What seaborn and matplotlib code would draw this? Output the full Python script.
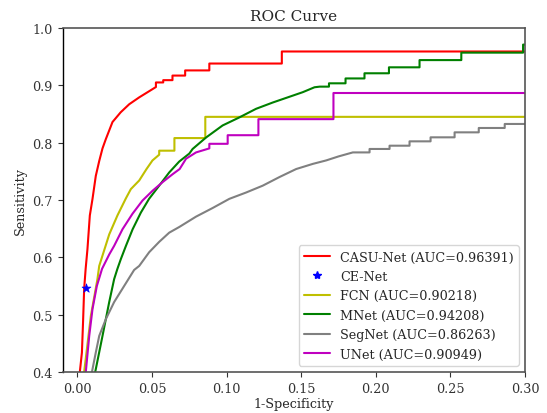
import numpy as np
import pandas as pd
import matplotlib
matplotlib.use("Agg")
import matplotlib.pyplot as plt
import seaborn as sns

# ---- data (fpr, tpr) ----
casu_fpr = [0.0, 0.0016, 0.003, 0.0038, 0.0045, 0.0055, 0.0067, 0.0083, 0.0101, 0.0123, 0.0146,
            0.0168, 0.019, 0.0235, 0.029, 0.0347, 0.0414, 0.047, 0.0526, 0.0526, 0.0575, 0.0575,
            0.0637, 0.0637, 0.0722, 0.0722, 0.0884, 0.0884, 0.137, 0.137, 0.30]
casu_tpr = [0.0, 0.40, 0.434, 0.49, 0.545, 0.58, 0.614, 0.673, 0.702, 0.742, 0.768,
            0.790, 0.806, 0.836, 0.853, 0.867, 0.879, 0.888, 0.897, 0.905, 0.905, 0.909,
            0.909, 0.917, 0.917, 0.926, 0.926, 0.938, 0.938, 0.959, 0.959]

fcn_fpr = [0.0, 0.0045, 0.009, 0.0134, 0.0146, 0.0213, 0.0268, 0.0325, 0.0358, 0.0414, 0.0463,
           0.0503, 0.0548, 0.0548, 0.065, 0.065, 0.0857, 0.0857, 0.30]
fcn_tpr = [0.0, 0.40, 0.498, 0.562, 0.585, 0.64, 0.673, 0.703, 0.719, 0.734, 0.754,
           0.769, 0.779, 0.786, 0.786, 0.808, 0.808, 0.845, 0.845]

mnet_fpr = [0.0, 0.0119, 0.0123, 0.0168, 0.0213, 0.0246, 0.0268, 0.0291, 0.0325, 0.037, 0.0425,
            0.048, 0.0548, 0.0615, 0.0682, 0.075, 0.0772, 0.0862, 0.0973, 0.1085, 0.1197,
            0.1309, 0.1443, 0.151, 0.1589, 0.1624, 0.1686, 0.1686, 0.1797, 0.1797, 0.1924,
            0.1924, 0.2088, 0.2088, 0.2293, 0.2293, 0.2573, 0.2573, 0.2987, 0.2987, 0.30]
mnet_tpr = [0.0, 0.40, 0.405, 0.463, 0.522, 0.562, 0.58, 0.597, 0.62, 0.649, 0.678,
            0.702, 0.725, 0.748, 0.767, 0.781, 0.789, 0.809, 0.83, 0.844, 0.859,
            0.87, 0.882, 0.888, 0.8966, 0.8977, 0.8977, 0.9035, 0.9035, 0.912, 0.912,
            0.921, 0.921, 0.9314, 0.9314, 0.944, 0.944, 0.957, 0.957, 0.971, 0.971]

segnet_fpr = [0.0, 0.0097, 0.0101, 0.0123, 0.0146, 0.019, 0.0246, 0.0313, 0.038, 0.0414, 0.0481,
              0.0548, 0.0615, 0.0683, 0.0795, 0.0906, 0.1018, 0.113, 0.1242, 0.1354, 0.1466,
              0.1578, 0.1667, 0.175, 0.1846, 0.1958, 0.1958, 0.2092, 0.2092, 0.2226, 0.2226,
              0.2367, 0.2367, 0.2528, 0.2528, 0.269, 0.269, 0.2864, 0.2864, 0.30]
segnet_tpr = [0.0, 0.40, 0.405, 0.434, 0.463, 0.492, 0.522, 0.55, 0.578, 0.585, 0.609,
              0.627, 0.643, 0.653, 0.671, 0.686, 0.702, 0.713, 0.725, 0.74, 0.754,
              0.763, 0.769, 0.776, 0.783, 0.783, 0.789, 0.789, 0.7947, 0.7947, 0.8023,
              0.8023, 0.8093, 0.8093, 0.818, 0.818, 0.8256, 0.8256, 0.8326, 0.8326]

unet_fpr = [0.0, 0.0056, 0.0079, 0.0101, 0.013, 0.0165, 0.0213, 0.0246, 0.0302, 0.0369,
            0.0436, 0.0503, 0.057, 0.0638, 0.0685, 0.0728, 0.0795, 0.0884, 0.0884, 0.1007,
            0.1007, 0.1213, 0.1213, 0.1716, 0.1716, 0.30]
unet_tpr = [0.0, 0.40, 0.463, 0.51, 0.55, 0.58, 0.605, 0.62, 0.649, 0.676,
            0.699, 0.716, 0.731, 0.745, 0.754, 0.772, 0.783, 0.790, 0.798, 0.798,
            0.813, 0.813, 0.841, 0.841, 0.8866, 0.8866]

cenet_fpr = [0.006]
cenet_tpr = [0.547]

names = ["CASU-Net (AUC=0.96391)", "FCN (AUC=0.90218)", "MNet (AUC=0.94208)",
         "SegNet (AUC=0.86263)", "UNet (AUC=0.90949)"]
colors = ["#ff0000", "#bfbf00", "#008000", "#808080", "#bf00bf"]
series = [(casu_fpr, casu_tpr), (fcn_fpr, fcn_tpr), (mnet_fpr, mnet_tpr),
          (segnet_fpr, segnet_tpr), (unet_fpr, unet_tpr)]

sns.set_theme(style="ticks")
plt.rcParams["font.family"] = ["DejaVu Serif"]
plt.rcParams["font.size"] = 9.2

fig = plt.figure(figsize=(5.47, 4.14), dpi=100)
ax = fig.add_axes([0.1143, 0.099, 0.8455, 0.831])

frames = []
for nm, (fx, ty) in zip(names, series):
    frames.append(pd.DataFrame({"fpr": fx, "tpr": ty, "model": nm}))
df = pd.concat(frames, ignore_index=True)

handles = {}
for nm, col in zip(names, colors):
    sub = df[df["model"] == nm]
    sns.lineplot(data=sub, x="fpr", y="tpr", color=col, lw=1.5, sort=False,
                 estimator=None, ax=ax, legend=False)
    handles[nm] = ax.lines[-1]

ce = pd.DataFrame({"fpr": cenet_fpr, "tpr": cenet_tpr})
sns.scatterplot(data=ce, x="fpr", y="tpr", marker="*", color="blue", s=45,
                edgecolor="blue", linewidth=0.5, ax=ax, legend=False, zorder=5)
ce_handle = plt.Line2D([], [], marker="*", color="blue", linestyle="", markersize=6)

ax.set_xlim(-0.01, 0.30)
ax.set_ylim(0.4, 1.0)
ax.set_xticks([0.0, 0.05, 0.10, 0.15, 0.20, 0.25, 0.30])
ax.set_yticks([0.4, 0.5, 0.6, 0.7, 0.8, 0.9, 1.0])
ax.set_xlabel("1-Specificity", fontsize=9.2, labelpad=1.5)
ax.set_ylabel("Sensitivity", fontsize=9.2, labelpad=4)
ax.set_title("ROC Curve", fontsize=11, pad=6)
ax.tick_params(labelsize=9.2, length=3.5, width=0.8, colors="#333333")

for side in ["top", "right", "bottom"]:
    ax.spines[side].set_visible(True)
    ax.spines[side].set_color("#555555")
    ax.spines[side].set_linewidth(1.2)
ax.spines["left"].set_color("black")
ax.spines["left"].set_linewidth(1.0)

leg_handles = [handles[names[0]], ce_handle, handles[names[1]], handles[names[2]],
               handles[names[3]], handles[names[4]]]
leg_labels = [names[0], "CE-Net", names[1], names[2], names[3], names[4]]
ax.legend(leg_handles, leg_labels, loc="lower right", fontsize=9.2, frameon=True,
          framealpha=0.8, edgecolor="#cccccc", borderpad=0.4, labelspacing=0.5,
          handlelength=2.0, borderaxespad=0.5)

fig.savefig("out.png", dpi=100)
